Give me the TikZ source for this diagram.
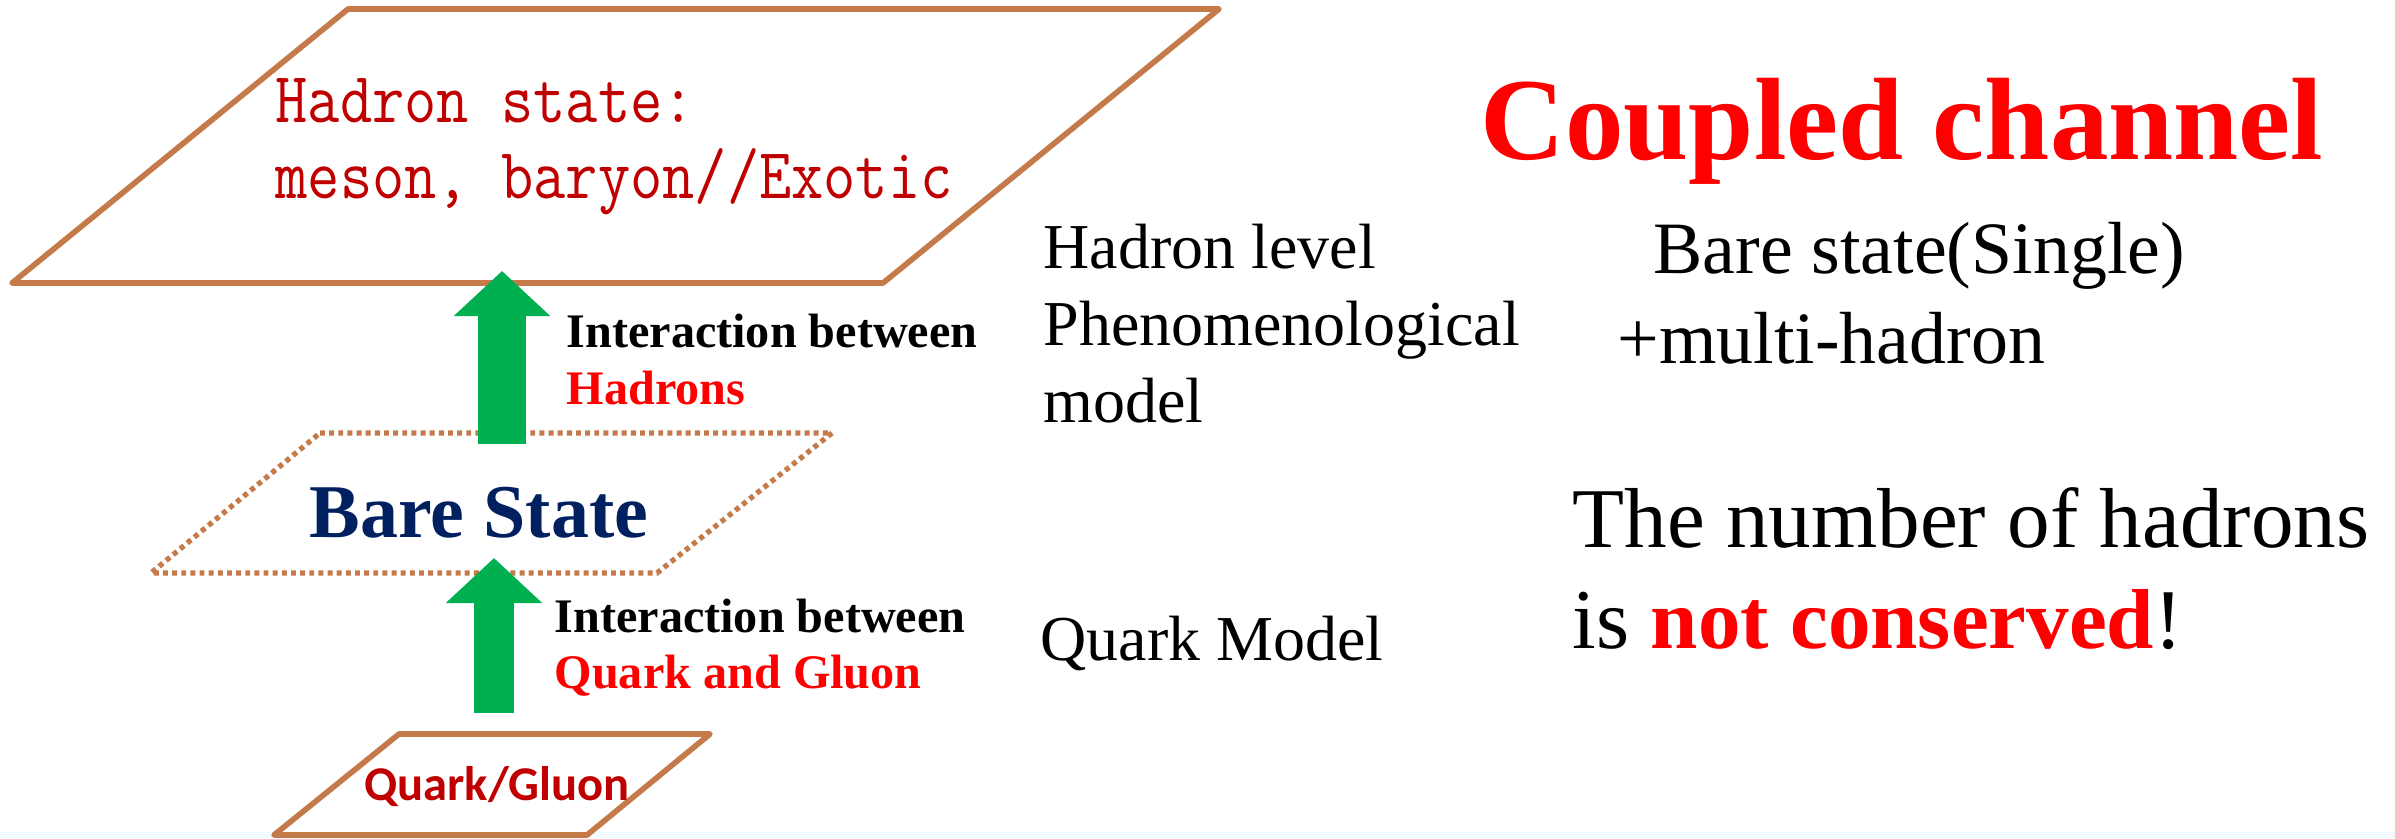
\documentclass[tikz,border=0pt]{standalone}
\usepackage{fontspec}
\setmainfont{Liberation Serif}
\newfontfamily\cali{Carlito}
\usepackage{graphicx}
\usetikzlibrary{arrows.meta}
\definecolor{brownline}{RGB}{197,122,74}
\definecolor{darkred}{RGB}{192,0,0}
\definecolor{navy}{RGB}{0,32,96}
\definecolor{arrowgreen}{RGB}{0,176,80}
\definecolor{stripblue}{RGB}{243,251,255}
\tikzset{
  txt/.style={inner sep=0pt, anchor=base west},
  ctxt/.style={inner sep=0pt, anchor=base},
  solidpar/.style={draw=brownline, line width=1.6pt, line join=round},
  dotpar/.style={draw=brownline, line width=1.5pt, dash pattern=on 1.4pt off 1.2pt},
  bigarrow/.style={draw=arrowgreen, line width=#1, -{Triangle[length=12.8pt,width=26.7pt]}},
}
\begin{document}
\begin{tikzpicture}[x=0.01cm,y=-0.01cm]
\useasboundingbox (0,0) rectangle (2395,838);
\fill[stripblue] (0,832) rectangle (2395,838);
% top parallelogram
\coordinate (h1) at (348,9); \coordinate (h2) at (1219,9);
\coordinate (h3) at (883,283); \coordinate (h4) at (12,283);
\draw[solidpar] (h1) -- (h2) -- (h3) -- (h4) -- cycle;
% bare state parallelogram
\coordinate (b1) at (320,433); \coordinate (b2) at (832,433);
\coordinate (b3) at (657,573); \coordinate (b4) at (151,573);
\draw[dotpar] (b1) -- (b2) -- (b3) -- (b4) -- cycle;
% quark/gluon parallelogram
\coordinate (q1) at (399,734); \coordinate (q2) at (710,734);
\coordinate (q3) at (587,835); \coordinate (q4) at (274,835);
\draw[solidpar] (q1) -- (q2) -- (q3) -- (q4) -- cycle;
% texts in shapes
\node[txt, font=\ttfamily\fontsize{17.8pt}{20pt}\selectfont, text=darkred] (hs1) at (275,122) {\scalebox{1}[1.15]{Hadron state:}};
\node[txt, font=\ttfamily\fontsize{17.8pt}{20pt}\selectfont, text=darkred] (hs2) at (275,198) {\scalebox{1}[1.15]{meson, baryon//Exotic}};
\node[ctxt, font=\bfseries\fontsize{21.6pt}{24pt}\selectfont, text=navy] (bare) at (479,537) {Bare State};
\node[ctxt, font=\cali\bfseries\fontsize{13.8pt}{16pt}\selectfont, text=darkred] (qg) at (497,800) {Quark/Gluon};
% arrows
\coordinate (a1s) at (502,444); \coordinate (a1e) at (502,271);
\draw[bigarrow=13.66pt] (a1s) -- (a1e);
\coordinate (a2s) at (494,713); \coordinate (a2e) at (494,558);
\draw[bigarrow=11.1pt] (a2s) -- (a2e);
% interaction labels
\node[txt, font=\bfseries\fontsize{13.7pt}{16pt}\selectfont] (i1) at (566,347) {Interaction between};
\node[txt, font=\bfseries\fontsize{13.7pt}{16pt}\selectfont, text=red] (i2) at (566,404) {Hadrons};
\node[txt, font=\bfseries\fontsize{13.7pt}{16pt}\selectfont] (i3) at (554,632) {Interaction between};
\node[txt, font=\bfseries\fontsize{13.7pt}{16pt}\selectfont, text=red] (i4) at (554,688) {Quark and Gluon};
% middle column
\node[txt, font=\fontsize{18.2pt}{22pt}\selectfont] (m1) at (1043,268) {Hadron level};
\node[txt, font=\fontsize{18.2pt}{22pt}\selectfont] (m2) at (1043,345) {Phenomenological};
\node[txt, font=\fontsize{18.2pt}{22pt}\selectfont] (m3) at (1043,422) {model};
\node[txt, font=\fontsize{18.2pt}{22pt}\selectfont] (m4) at (1040,660) {Quark Model};
% right column
\node[txt, font=\bfseries\fontsize{33.3pt}{40pt}\selectfont, text=red] (cc) at (1480,159) {Coupled channel};
\node[txt, font=\fontsize{21pt}{25pt}\selectfont] (r1) at (1653,273) {Bare state(Single)};
\node[txt, font=\fontsize{21pt}{25pt}\selectfont] (r2) at (1617,363) {+multi-hadron};
\node[txt, font=\fontsize{24.2pt}{29pt}\selectfont] (n1) at (1572,547) {The number of hadrons};
\node[txt, font=\fontsize{24.2pt}{29pt}\selectfont] (n2) at (1572,648) {is \textcolor{red}{\bfseries not conserved}!};
\end{tikzpicture}
\end{document}
